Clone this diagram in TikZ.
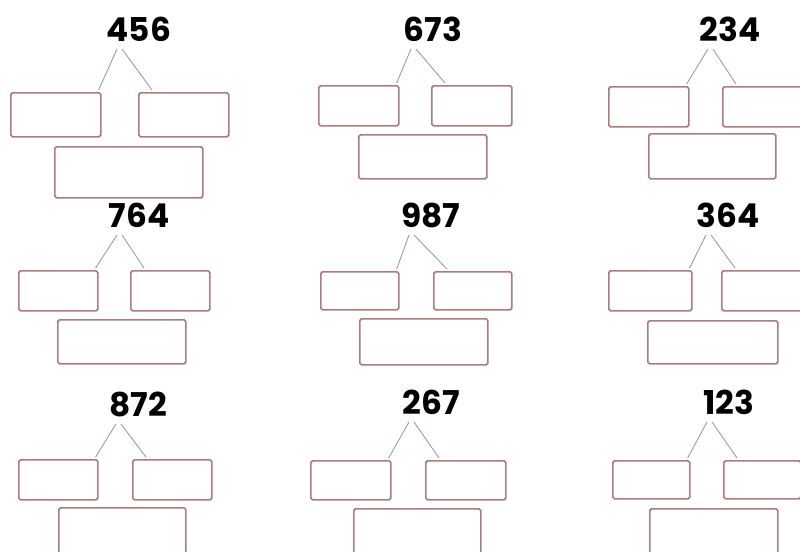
\documentclass[tikz,border=0pt]{standalone}
\usepackage{fontspec}
\setmainfont{Poppins}
\usetikzlibrary{calc}
\definecolor{boxred}{RGB}{172,124,124}
\definecolor{bondgray}{RGB}{150,162,172}

\begin{document}
\begin{tikzpicture}[
      x=0.03cm, y=-0.03cm,
      num/.style={font=\bfseries\fontsize{28}{28}\selectfont, inner sep=0pt},
      part/.style={draw=boxred, line width=1.4pt, rounded corners=1.5pt, anchor=north west, inner sep=0pt},
      bond/.style={draw=bondgray, line width=0.8pt}
    ]
      \useasboundingbox (0,0) rectangle (800,551);
      \clip (0,0) rectangle (800,551);
      \foreach \id/\num/\nx/\ny/\lx/\rx/\ty/\w/\h/\bx/\by/\bw/\bh in {
          a/456/139/29/10/138/92/90/44/54/146/148/51,
          b/673/433/29/318/431/85/80/40/358/134/128/44,
          c/234/730/29/608/722/86/80/40/648/133/127/45,
          d/764/139/215/18/130/270/79/40/57/319/128/44,
          e/987/431/215/320/433/271/78/38/359/318/128/46,
          f/364/728/215/608/721/270/83/40/647/320/130/43,
          g/872/138/404/18/132/459/79/40/58/507/127/46,
          h/267/431/402/310/425/460/80/39/353/508/127/46,
          i/123/729/402/612/723/460/77/38/649/508/128/46} {
        \node[num] (n\id) at (\nx,\ny) {\num};
        \node[part, minimum width=\w*0.03cm, minimum height=\h*0.03cm] (l\id) at (\lx,\ty) {};
        \node[part, minimum width=\w*0.03cm, minimum height=\h*0.03cm] (r\id) at (\rx,\ty) {};
        \node[part, minimum width=\bw*0.03cm, minimum height=\bh*0.03cm] (b\id) at (\bx,\by) {};
        \coordinate (p\id) at ($(n\id.center)+(-22,20)$);
        \coordinate (q\id) at ($(n\id.center)+(-17,20)$);
        \draw[bond] (p\id) -- ($(l\id.north east)+(-3,-2)$);
        \draw[bond] (q\id) -- ($(r\id.north west)+(14,-2)$);
      }
    \end{tikzpicture}
\end{document}
